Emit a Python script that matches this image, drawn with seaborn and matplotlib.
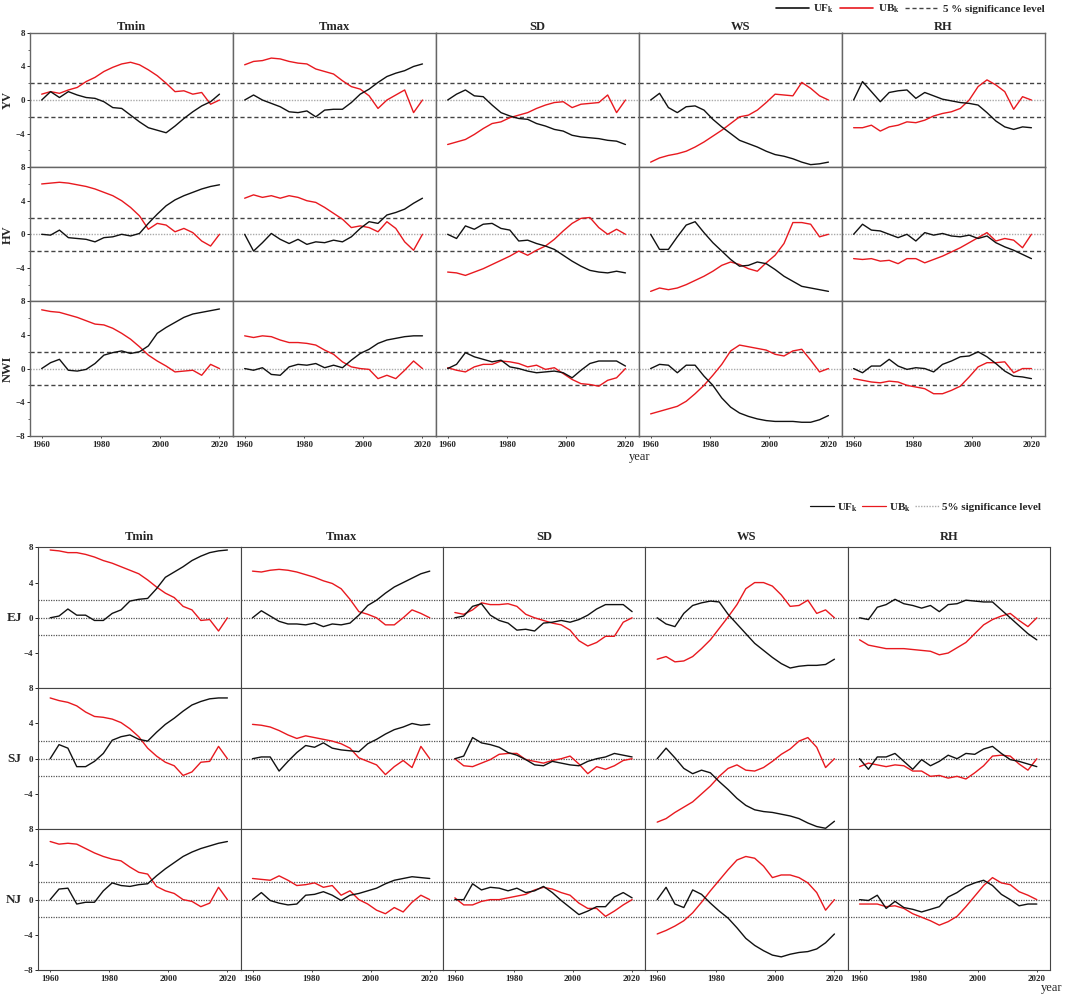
import matplotlib
matplotlib.use('Agg')
import matplotlib.pyplot as plt
from matplotlib.lines import Line2D
import pandas as pd
import seaborn as sns

years = list(range(1960, 2021, 3))
variables = ['Tmin', 'Tmax', 'SD', 'WS', 'RH']
top_regions = ['YV', 'HV', 'NWI']
bottom_regions = ['EJ', 'SJ', 'NJ']
xtick_years = [1960, 1980, 2000, 2020]

# ---- upper figure: YV
yv_tmin_uf = [0, 1.0, 0.3, 1.0, 0.6, 0.3, 0.2, -0.2, -0.9, -1.0, -1.8, -2.6, -3.3, -3.6, -3.9, -3.1, -2.2, -1.4, -0.7, -0.2, 0.7]
yv_tmin_ub = [0.7, 1.0, 0.8, 1.2, 1.5, 2.2, 2.7, 3.4, 3.9, 4.3, 4.5, 4.2, 3.6, 2.9, 2.0, 1.0, 1.1, 0.7, 0.9, -0.5, 0]
yv_tmax_uf = [0, 0.6, 0.0, -0.4, -0.8, -1.4, -1.5, -1.3, -2.0, -1.2, -1.1, -1.1, -0.3, 0.7, 1.3, 2.1, 2.8, 3.2, 3.5, 4.0, 4.3]
yv_tmax_ub = [4.2, 4.6, 4.7, 5.0, 4.9, 4.6, 4.4, 4.3, 3.7, 3.4, 3.1, 2.3, 1.6, 1.3, 0.5, -1.0, 0.0, 0.6, 1.2, -1.5, 0]
yv_sd_uf = [0, 0.7, 1.2, 0.5, 0.4, -0.6, -1.5, -1.9, -2.2, -2.3, -2.8, -3.1, -3.5, -3.7, -4.2, -4.4, -4.5, -4.6, -4.8, -4.9, -5.3]
yv_sd_ub = [-5.3, -5.0, -4.7, -4.1, -3.4, -2.8, -2.6, -2.1, -1.8, -1.5, -1.0, -0.6, -0.3, -0.2, -0.9, -0.5, -0.4, -0.3, 0.6, -1.5, 0]
yv_ws_uf = [0, 0.8, -0.9, -1.5, -0.8, -0.7, -1.2, -2.3, -3.2, -4.0, -4.8, -5.2, -5.6, -6.1, -6.5, -6.7, -7.0, -7.4, -7.7, -7.6, -7.4]
yv_ws_ub = [-7.4, -6.9, -6.6, -6.4, -6.1, -5.6, -5.0, -4.3, -3.6, -2.8, -2.0, -1.8, -1.2, -0.3, 0.7, 0.6, 0.5, 2.1, 1.4, 0.5, 0]
yv_rh_uf = [0, 2.2, 1.0, -0.2, 0.9, 1.1, 1.2, 0.2, 0.9, 0.5, 0.1, -0.1, -0.3, -0.4, -0.6, -1.5, -2.5, -3.2, -3.5, -3.2, -3.3]
yv_rh_ub = [-3.3, -3.3, -3.0, -3.7, -3.2, -3.0, -2.6, -2.7, -2.4, -1.9, -1.6, -1.4, -1.0, 0.0, 1.6, 2.4, 1.8, 1.0, -1.1, 0.4, 0]

# HV
hv_tmin_uf = [0, -0.1, 0.5, -0.4, -0.5, -0.6, -0.9, -0.4, -0.3, 0.0, -0.2, 0.1, 1.3, 2.4, 3.4, 4.1, 4.6, 5.0, 5.4, 5.7, 5.9]
hv_tmin_ub = [6.0, 6.1, 6.2, 6.1, 5.9, 5.7, 5.4, 5.0, 4.6, 4.0, 3.2, 2.2, 0.6, 1.3, 1.1, 0.3, 0.7, 0.2, -0.8, -1.4, 0]
hv_tmax_uf = [0, -2.0, -1.0, 0.1, -0.6, -1.1, -0.6, -1.2, -0.9, -1.0, -0.7, -0.9, -0.3, 0.7, 1.5, 1.3, 2.3, 2.6, 3.0, 3.7, 4.3]
hv_tmax_ub = [4.3, 4.7, 4.4, 4.6, 4.3, 4.6, 4.4, 4.0, 3.8, 3.2, 2.5, 1.8, 0.8, 1.0, 0.8, 0.3, 1.5, 0.7, -0.9, -1.9, 0]
hv_sd_uf = [0, -0.5, 1.0, 0.6, 1.2, 1.3, 0.7, 0.5, -0.8, -0.7, -1.1, -1.4, -1.8, -2.5, -3.2, -3.8, -4.3, -4.5, -4.6, -4.4, -4.6]
hv_sd_ub = [-4.5, -4.6, -4.9, -4.5, -4.1, -3.6, -3.1, -2.6, -2.0, -2.5, -1.9, -1.4, -0.6, 0.4, 1.3, 1.9, 2.0, 0.8, 0.0, 0.6, 0]
hv_ws_uf = [0, -1.8, -1.8, -0.3, 1.1, 1.5, 0.2, -1.0, -2.0, -3.0, -3.8, -3.7, -3.3, -3.5, -4.2, -5.0, -5.6, -6.2, -6.4, -6.6, -6.8]
hv_ws_ub = [-6.8, -6.4, -6.6, -6.4, -6.0, -5.5, -5.0, -4.4, -3.7, -3.3, -3.6, -4.1, -4.4, -3.4, -2.5, -1.1, 1.4, 1.4, 1.2, -0.3, 0]
hv_rh_uf = [0, 1.2, 0.5, 0.4, 0.0, -0.4, 0.0, -0.8, 0.2, -0.1, 0.1, -0.2, -0.3, -0.1, -0.5, -0.2, -1.0, -1.5, -1.9, -2.4, -2.9]
hv_rh_ub = [-2.9, -3.0, -2.9, -3.2, -3.1, -3.5, -2.9, -2.9, -3.4, -3.0, -2.6, -2.1, -1.6, -1.0, -0.4, 0.2, -0.8, -0.5, -0.7, -1.6, 0]

# NWI
nwi_tmin_uf = [0, 0.7, 1.1, -0.2, -0.3, -0.1, 0.6, 1.6, 1.9, 2.1, 1.8, 2.0, 2.7, 4.2, 4.9, 5.5, 6.1, 6.5, 6.7, 6.9, 7.1]
nwi_tmin_ub = [7.0, 6.8, 6.7, 6.4, 6.1, 5.7, 5.3, 5.2, 4.8, 4.2, 3.5, 2.6, 1.6, 0.9, 0.3, -0.4, -0.3, -0.2, -0.8, 0.5, 0]
nwi_tmax_uf = [0, -0.2, 0.1, -0.7, -0.8, 0.2, 0.5, 0.4, 0.6, 0.1, 0.4, 0.1, 1.0, 1.8, 2.3, 3.0, 3.4, 3.6, 3.8, 3.9, 3.9]
nwi_tmax_ub = [3.9, 3.7, 3.9, 3.8, 3.4, 3.1, 3.1, 3.0, 2.8, 2.2, 1.7, 0.8, 0.2, 0.0, -0.1, -1.2, -0.8, -1.2, -0.2, 0.9, 0]
nwi_sd_uf = [0, 0.5, 1.9, 1.4, 1.1, 0.8, 1.0, 0.2, 0.0, -0.3, -0.5, -0.4, -0.3, -0.5, -1.1, -0.2, 0.6, 0.9, 0.9, 0.9, 0.3]
nwi_sd_ub = [0.1, -0.2, -0.4, 0.2, 0.5, 0.5, 0.9, 0.8, 0.6, 0.2, 0.4, -0.1, 0.1, -0.6, -1.3, -1.8, -1.9, -2.1, -1.4, -1.1, 0]
nwi_ws_uf = [0, 0.5, 0.4, -0.5, 0.4, 0.4, -0.9, -2.0, -3.5, -4.6, -5.3, -5.7, -6.0, -6.2, -6.3, -6.3, -6.3, -6.4, -6.4, -6.1, -5.6]
nwi_ws_ub = [-5.4, -5.1, -4.8, -4.5, -3.9, -3.0, -2.0, -0.8, 0.5, 2.1, 2.8, 2.6, 2.4, 2.2, 1.7, 1.5, 2.1, 2.3, 1.0, -0.4, 0]
nwi_rh_uf = [0, -0.5, 0.3, 0.3, 1.1, 0.3, -0.1, 0.1, 0.0, -0.4, 0.5, 0.9, 1.4, 1.5, 2.0, 1.4, 0.6, -0.3, -0.9, -1.0, -1.2]
nwi_rh_ub = [-1.2, -1.4, -1.6, -1.7, -1.5, -1.6, -2.0, -2.2, -2.4, -3.0, -3.0, -2.6, -2.1, -1.0, 0.2, 0.7, 0.7, 0.8, -0.5, 0.0, 0]

# ---- lower figure: EJ
ej_tmin_uf = [0, 0.2, 1.0, 0.3, 0.3, -0.3, -0.3, 0.5, 0.9, 1.9, 2.1, 2.2, 3.3, 4.6, 5.2, 5.8, 6.5, 7.0, 7.4, 7.6, 7.7]
ej_tmin_ub = [7.7, 7.6, 7.4, 7.4, 7.2, 6.9, 6.5, 6.2, 5.8, 5.4, 5.0, 4.3, 3.5, 2.8, 2.3, 1.3, 0.9, -0.3, -0.2, -1.5, 0]
ej_tmax_uf = [0, 0.8, 0.2, -0.4, -0.7, -0.7, -0.8, -0.6, -1.0, -0.7, -0.8, -0.6, 0.3, 1.4, 2.0, 2.8, 3.5, 4.0, 4.5, 5.0, 5.3]
ej_tmax_ub = [5.3, 5.2, 5.4, 5.5, 5.4, 5.2, 4.9, 4.6, 4.2, 3.9, 3.3, 2.1, 0.7, 0.4, 0.0, -0.8, -0.8, 0.0, 0.9, 0.5, 0]
ej_sd_uf = [0, 0.2, 1.3, 1.6, 0.3, -0.3, -0.6, -1.4, -1.3, -1.5, -0.6, -0.5, -0.3, -0.5, -0.2, 0.3, 1.0, 1.5, 1.5, 1.5, 0.7]
ej_sd_ub = [0.6, 0.4, 0.9, 1.7, 1.5, 1.5, 1.6, 1.3, 0.4, 0.0, -0.3, -0.6, -0.8, -1.4, -2.6, -3.2, -2.8, -2.1, -2.1, -0.5, 0]
ej_ws_uf = [0, -0.7, -1.0, 0.5, 1.4, 1.7, 1.9, 1.8, 0.4, -0.7, -1.8, -2.9, -3.7, -4.5, -5.2, -5.7, -5.5, -5.4, -5.4, -5.3, -4.7]
ej_ws_ub = [-4.7, -4.4, -5.0, -4.9, -4.4, -3.5, -2.5, -1.2, 0.1, 1.5, 3.3, 4.0, 4.0, 3.6, 2.6, 1.3, 1.4, 2.0, 0.5, 0.9, 0]
ej_rh_uf = [0, -0.2, 1.2, 1.5, 2.1, 1.6, 1.4, 1.1, 1.4, 0.7, 1.5, 1.6, 2.0, 1.9, 1.8, 1.8, 0.9, 0.0, -0.9, -1.8, -2.5]
ej_rh_ub = [-2.5, -3.1, -3.3, -3.5, -3.5, -3.5, -3.6, -3.7, -3.8, -4.2, -4.0, -3.4, -2.8, -1.8, -0.8, -0.2, 0.2, 0.5, -0.3, -1.0, 0]

# SJ
sj_tmin_uf = [0, 1.6, 1.2, -0.9, -0.9, -0.3, 0.6, 2.1, 2.5, 2.7, 2.2, 2.0, 3.0, 3.9, 4.6, 5.4, 6.1, 6.5, 6.8, 6.9, 6.9]
sj_tmin_ub = [6.9, 6.6, 6.4, 6.0, 5.3, 4.8, 4.7, 4.5, 4.1, 3.4, 2.5, 1.2, 0.3, -0.4, -0.8, -1.9, -1.5, -0.4, -0.3, 1.4, 0]
sj_tmax_uf = [0, 0.2, 0.2, -1.4, -0.3, 0.7, 1.5, 1.3, 1.8, 1.2, 1.0, 0.9, 0.8, 1.7, 2.2, 2.8, 3.3, 3.6, 4.0, 3.8, 3.9]
sj_tmax_ub = [3.9, 3.8, 3.6, 3.2, 2.7, 2.3, 2.6, 2.4, 2.2, 2.0, 1.7, 1.2, 0.1, -0.3, -0.7, -1.8, -0.9, -0.2, -1.0, 1.4, 0]
sj_sd_uf = [0, 0.3, 2.4, 1.8, 1.6, 1.3, 0.7, 0.4, -0.1, -0.7, -0.8, -0.3, -0.5, -0.7, -0.8, -0.3, 0.0, 0.2, 0.6, 0.4, 0.2]
sj_sd_ub = [0, -0.8, -0.9, -0.5, -0.1, 0.5, 0.6, 0.6, -0.1, -0.3, -0.5, -0.2, 0.0, 0.3, -0.6, -1.7, -0.9, -1.2, -0.8, -0.2, 0]
sj_ws_uf = [0, 1.2, 0.1, -1.1, -1.7, -1.3, -1.6, -2.6, -3.5, -4.5, -5.3, -5.8, -6.0, -6.1, -6.3, -6.5, -6.8, -7.3, -7.7, -7.9, -7.1]
sj_ws_ub = [-7.2, -6.8, -6.1, -5.5, -4.9, -4.0, -3.1, -2.0, -1.1, -0.7, -1.3, -1.4, -1.0, -0.3, 0.5, 1.1, 2.0, 2.4, 1.3, -1.0, 0]
sj_rh_uf = [0, -1.2, 0.2, 0.2, 0.6, -0.3, -1.2, -0.1, -0.8, -0.3, 0.4, 0.0, 0.6, 0.5, 1.1, 1.4, 0.6, -0.1, -0.3, -0.6, -0.9]
sj_rh_ub = [-0.9, -0.5, -0.7, -0.9, -0.7, -0.8, -1.4, -1.4, -2.0, -1.9, -2.2, -2.0, -2.3, -1.6, -0.8, 0.3, 0.4, 0.3, -0.6, -1.3, 0]

# NJ
nj_tmin_uf = [0, 1.2, 1.3, -0.5, -0.3, -0.3, 1.0, 1.9, 1.6, 1.5, 1.7, 1.8, 2.7, 3.5, 4.2, 4.9, 5.4, 5.8, 6.1, 6.4, 6.6]
nj_tmin_ub = [6.6, 6.3, 6.4, 6.3, 5.8, 5.3, 4.9, 4.6, 4.4, 3.7, 3.1, 2.9, 1.5, 1.0, 0.7, 0.0, -0.2, -0.8, -0.4, 1.4, 0]
nj_tmax_uf = [0, 0.8, -0.1, -0.4, -0.6, -0.5, 0.5, 0.6, 0.9, 0.5, -0.1, 0.5, 0.7, 1.0, 1.3, 1.8, 2.2, 2.4, 2.6, 2.5, 2.4]
nj_tmax_ub = [2.4, 2.3, 2.2, 2.7, 2.2, 1.6, 1.7, 1.9, 1.4, 1.6, 0.5, 1.0, 0.0, -0.5, -1.2, -1.6, -0.9, -1.4, -0.3, 0.5, 0]
nj_sd_uf = [0, 0.0, 1.8, 1.1, 1.4, 1.3, 1.0, 1.3, 0.8, 1.0, 1.5, 0.8, -0.1, -0.9, -1.7, -1.3, -0.8, -0.8, 0.3, 0.8, 0.2]
nj_sd_ub = [0.2, -0.6, -0.6, -0.2, 0.0, 0.0, 0.2, 0.4, 0.6, 1.1, 1.4, 1.2, 0.8, 0.5, -0.4, -1.0, -1.0, -1.9, -1.3, -0.6, 0]
nj_ws_uf = [0, 1.4, -0.5, -0.9, 1.1, 0.6, -0.4, -1.3, -2.1, -3.2, -4.4, -5.2, -5.8, -6.3, -6.5, -6.2, -6.0, -5.9, -5.6, -4.9, -3.9]
nj_ws_ub = [-3.9, -3.5, -3.0, -2.4, -1.5, -0.3, 1.0, 2.2, 3.4, 4.5, 4.9, 4.7, 3.8, 2.5, 2.8, 2.8, 2.5, 1.9, 0.8, -1.2, 0]
nj_rh_uf = [0, -0.1, 0.5, -1.0, -0.2, -0.9, -1.1, -1.4, -1.1, -0.8, 0.3, 0.8, 1.5, 1.9, 2.2, 1.6, 0.6, 0.0, -0.7, -0.5, -0.5]
nj_rh_ub = [-0.5, -0.5, -0.5, -0.8, -0.7, -1.0, -1.6, -2.0, -2.4, -2.9, -2.5, -1.9, -0.8, 0.4, 1.6, 2.5, 1.9, 1.7, 0.9, 0.5, 0]

top_uf = [[yv_tmin_uf, yv_tmax_uf, yv_sd_uf, yv_ws_uf, yv_rh_uf],
          [hv_tmin_uf, hv_tmax_uf, hv_sd_uf, hv_ws_uf, hv_rh_uf],
          [nwi_tmin_uf, nwi_tmax_uf, nwi_sd_uf, nwi_ws_uf, nwi_rh_uf]]
top_ub = [[yv_tmin_ub, yv_tmax_ub, yv_sd_ub, yv_ws_ub, yv_rh_ub],
          [hv_tmin_ub, hv_tmax_ub, hv_sd_ub, hv_ws_ub, hv_rh_ub],
          [nwi_tmin_ub, nwi_tmax_ub, nwi_sd_ub, nwi_ws_ub, nwi_rh_ub]]
bot_uf = [[ej_tmin_uf, ej_tmax_uf, ej_sd_uf, ej_ws_uf, ej_rh_uf],
          [sj_tmin_uf, sj_tmax_uf, sj_sd_uf, sj_ws_uf, sj_rh_uf],
          [nj_tmin_uf, nj_tmax_uf, nj_sd_uf, nj_ws_uf, nj_rh_uf]]
bot_ub = [[ej_tmin_ub, ej_tmax_ub, ej_sd_ub, ej_ws_ub, ej_rh_ub],
          [sj_tmin_ub, sj_tmax_ub, sj_sd_ub, sj_ws_ub, sj_rh_ub],
          [nj_tmin_ub, nj_tmax_ub, nj_sd_ub, nj_ws_ub, nj_rh_ub]]

sns.set_style('white')
plt.rcParams['font.family'] = ['Liberation Serif', 'DejaVu Serif']
plt.rcParams['mathtext.fontset'] = 'stix'

BLACK = '#111111'
RED = '#e8191f'
palette = {'UF': BLACK, 'UB': RED}

fig = plt.figure(figsize=(10.65, 9.97), dpi=100)


def draw_block(gs, regions, uf_rows, ub_rows, top_style, rotate_labels, title_pad):
    axes = gs.subplots()
    last = len(regions) - 1
    for r, region in enumerate(regions):
        for c, var in enumerate(variables):
            ax = axes[r, c]
            df = pd.DataFrame({
                'year': years * 2,
                'value': uf_rows[r][c] + ub_rows[r][c],
                'series': ['UF'] * len(years) + ['UB'] * len(years),
            })
            if top_style:
                ax.axhline(2, color='#444444', ls=(0, (3, 2)), lw=1.0, zorder=1)
                ax.axhline(-2, color='#444444', ls=(0, (3, 2)), lw=1.0, zorder=1)
                ax.axhline(0, color='#aaaaaa', ls=(0, (1, 1)), lw=1.0, zorder=1)
            else:
                for h in (2, 0, -2):
                    ax.axhline(h, color='#555555', ls=(0, (1, 1)), lw=0.9, zorder=1)
            sns.lineplot(data=df, x='year', y='value', hue='series', palette=palette,
                         hue_order=['UB', 'UF'], ax=ax, legend=False, lw=1.0, zorder=3)
            ax.set_xlim(1956, 2024.5)
            ax.set_ylim(-8, 8)
            ax.set_xlabel('')
            ax.set_ylabel('')
            for s in ax.spines.values():
                s.set_color('#666666' if top_style else '#444444')
                s.set_linewidth(1.0 if top_style else 0.8)
            if r == 0:
                ax.set_title(var, fontsize=9, fontweight='bold', pad=title_pad)
            if c == 0:
                ax.set_yticks([-8, -4, 0, 4, 8] if r == last else [-4, 0, 4, 8])
                ax.tick_params(axis='y', left=True, length=2.5, width=0.7, labelsize=6.5, pad=1)
                if top_style:
                    ax.set_yticks([-6, -2, 2, 6], minor=True)
                    ax.tick_params(axis='y', which='minor', left=True, length=1.5, width=0.5)
                if rotate_labels:
                    ax.set_ylabel(region, fontsize=9, fontweight='bold', rotation=90, labelpad=1)
                else:
                    ax.set_ylabel(region, fontsize=9.5, fontweight='bold', rotation=0,
                                  labelpad=7, va='center')
            else:
                ax.set_yticks([])
            if r == last:
                ax.set_xticks(xtick_years)
                ax.tick_params(axis='x', bottom=True, length=1.5, width=0.6, labelsize=6.5, pad=2)
            else:
                ax.set_xticks([])
            for lab in ax.get_xticklabels() + ax.get_yticklabels():
                lab.set_fontweight('bold')
    return axes


gs_top = fig.add_gridspec(3, 5, left=0.028, right=0.981, top=0.967, bottom=0.563, hspace=0, wspace=0)
draw_block(gs_top, top_regions, top_uf, top_ub, True, True, 2)

gs_bot = fig.add_gridspec(3, 5, left=0.036, right=0.986, top=0.451, bottom=0.027, hspace=0, wspace=0)
draw_block(gs_bot, bottom_regions, bot_uf, bot_ub, False, False, 5)

fig.text(640 / 1065, 1 - 457 / 997, 'year', ha='center', va='center', fontsize=9)
fig.text(1052 / 1065, 1 - 988 / 997, 'year', ha='center', va='center', fontsize=9)

top_handles = [Line2D([], [], color=BLACK, lw=1.2),
               Line2D([], [], color=RED, lw=1.2),
               Line2D([], [], color='#444444', lw=1.0, ls=(0, (3, 2)))]
fig.legend(top_handles, [r'UF$_\mathbf{k}$', r'UB$_\mathbf{k}$', '5 % significance level'],
           loc='center right', bbox_to_anchor=(0.985, 0.991), ncol=3, frameon=False,
           prop={'weight': 'bold', 'size': 8}, handlelength=3.0, handletextpad=0.4,
           columnspacing=0.5, borderaxespad=0)

bot_handles = [Line2D([], [], color=BLACK, lw=0.9),
               Line2D([], [], color=RED, lw=0.9),
               Line2D([], [], color='#aaaaaa', lw=1.0, ls=(0, (1, 1)))]
fig.legend(bot_handles, [r'UF$_\mathbf{k}$', r'UB$_\mathbf{k}$', '5% significance level'],
           loc='center right', bbox_to_anchor=(0.982, 0.491), ncol=3, frameon=False,
           prop={'weight': 'bold', 'size': 8}, handlelength=2.2, handletextpad=0.3,
           columnspacing=0.3, borderaxespad=0)

fig.savefig('out.png', dpi=100)
